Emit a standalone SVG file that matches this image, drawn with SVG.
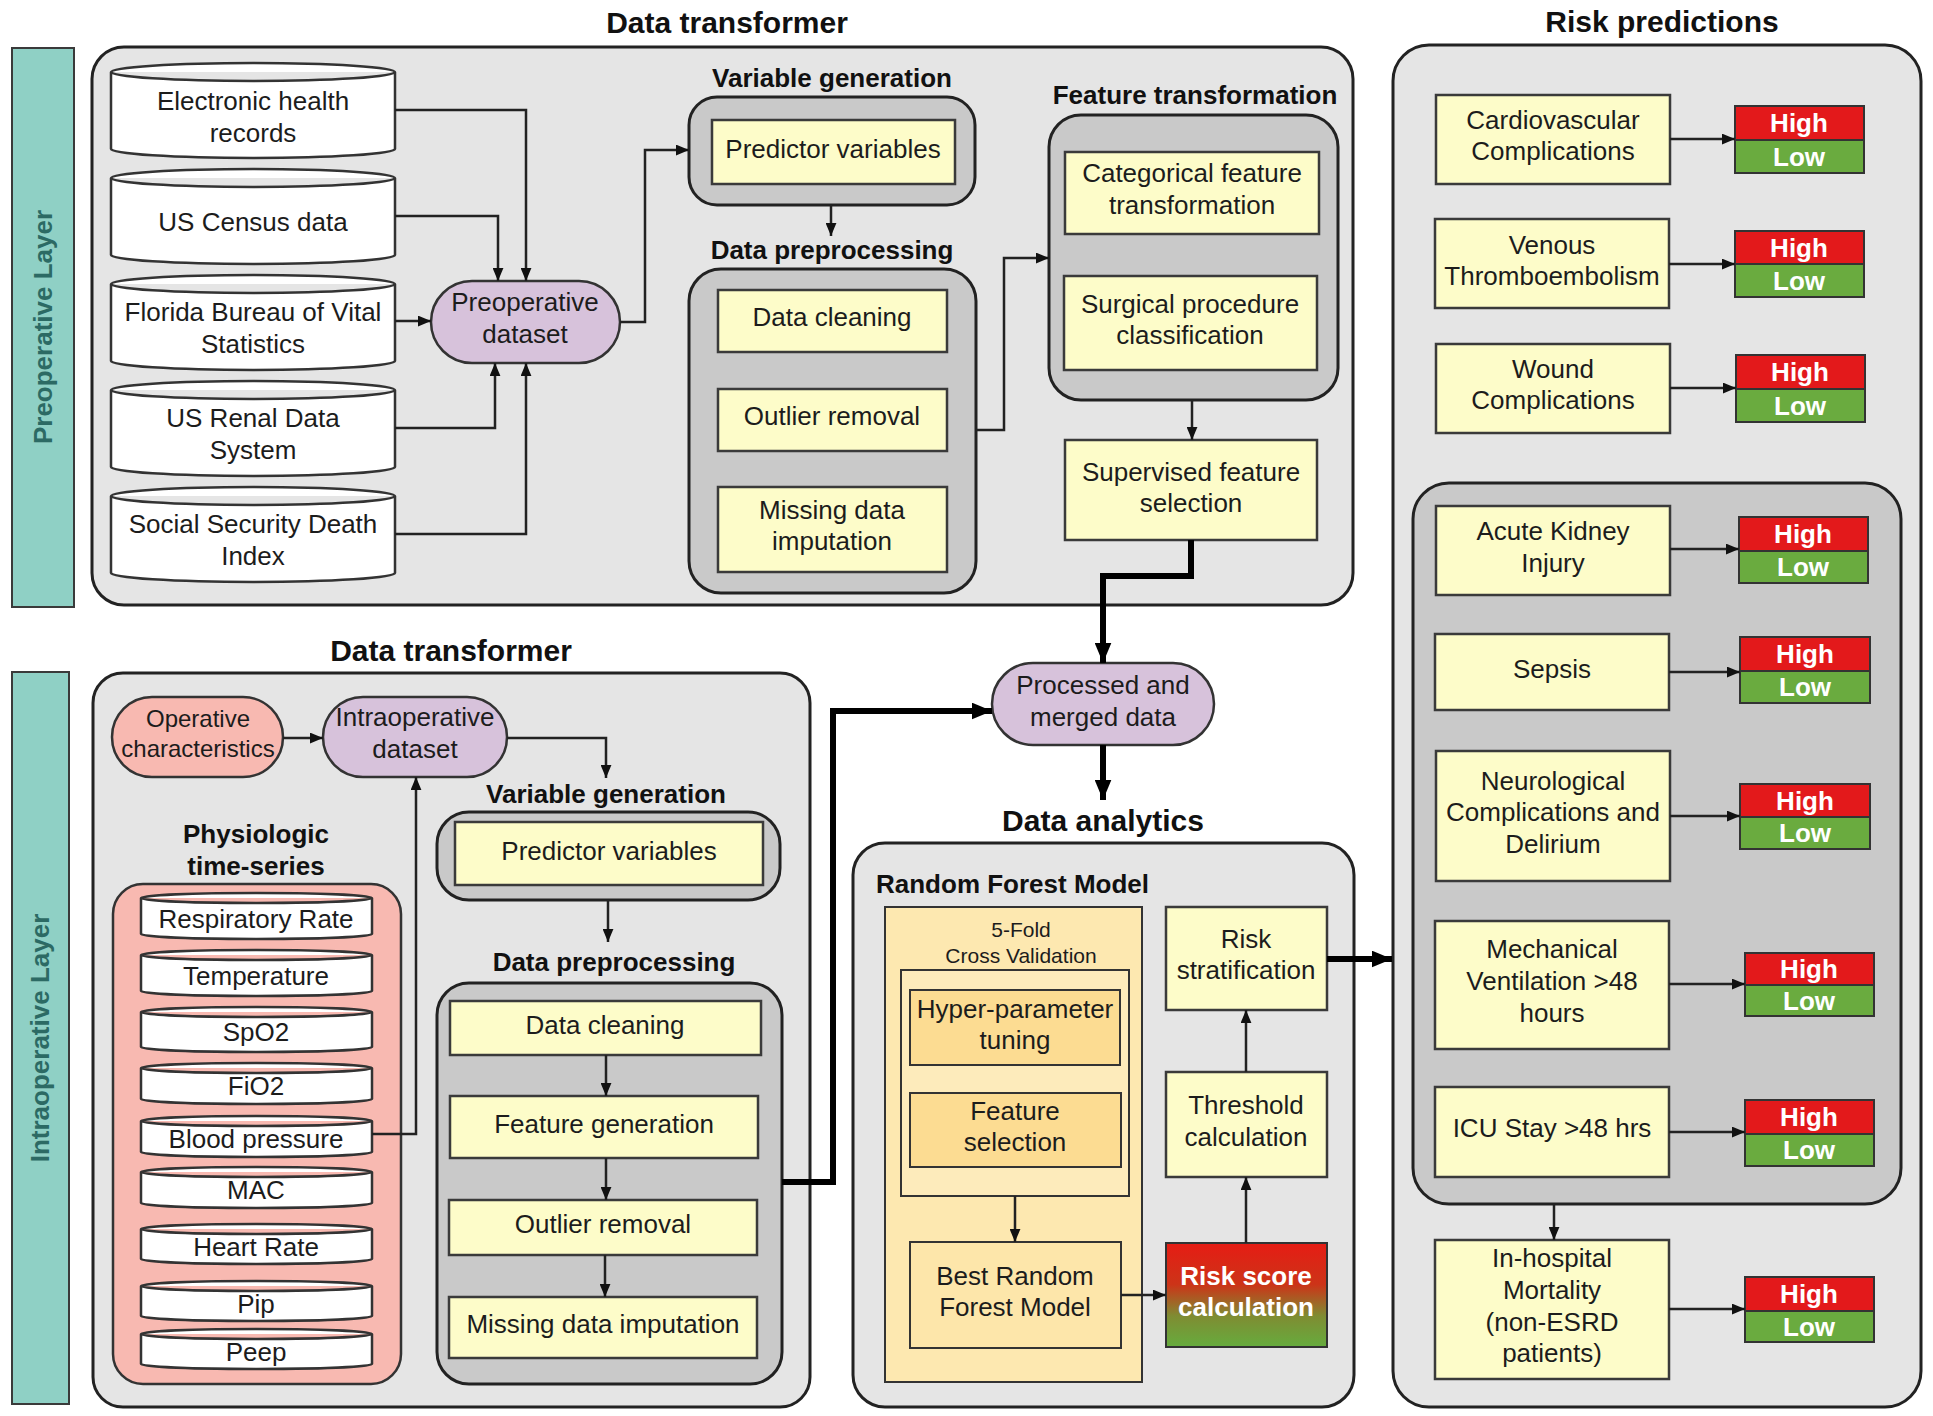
<svg xmlns="http://www.w3.org/2000/svg" width="1933" height="1416" viewBox="0 0 1933 1416">
<defs>
<marker id="ah" viewBox="0 0 12 10" refX="12" refY="5" markerWidth="13" markerHeight="11" markerUnits="userSpaceOnUse" orient="auto"><path d="M0,0 L12,5 L0,10 z" fill="#111"/></marker>
<marker id="ahb" viewBox="0 0 12 10" refX="12" refY="5" markerWidth="20" markerHeight="17" markerUnits="userSpaceOnUse" orient="auto"><path d="M0,0 L12,5 L0,10 z" fill="#000"/></marker>
<linearGradient id="rg" x1="0" y1="0" x2="0" y2="1">
<stop offset="0" stop-color="#e61c14"/>
<stop offset="0.4" stop-color="#cc3418"/>
<stop offset="0.7" stop-color="#7f8c32"/>
<stop offset="1" stop-color="#66ac3e"/>
</linearGradient>
<style>
text{font-family:"Liberation Sans",Arial,sans-serif;font-size:26px;fill:#1c1c1c;text-anchor:middle;dominant-baseline:central}
.t{font-weight:bold;font-size:30px;fill:#111}
.s{font-weight:bold;font-size:26px;fill:#111}
.lay{font-weight:bold;font-size:26px;fill:#2c6a64}
.w{font-weight:bold;fill:#fff}
.sm{font-size:21px}
.op{font-size:24px}
.teal{fill:#8fd0c5;stroke:#3a3a3a;stroke-width:2}
.cont{fill:#e5e5e5;stroke:#222;stroke-width:3}
.grp{fill:#c9c9c9;stroke:#222;stroke-width:3}
.pink{fill:#f8b9b1;stroke:#333;stroke-width:2.5}
.lav{fill:#d7c2db;stroke:#333;stroke-width:2.5}
.y{fill:#fdfcc9;stroke:#3a3a3a;stroke-width:2.5}
.cyl{fill:#fff;stroke:#333;stroke-width:2.5}
.or1{fill:#fde8b0;stroke:#333;stroke-width:2}
.or2{fill:#fdebbb;stroke:#333;stroke-width:2}
.or3{fill:#fcdc92;stroke:#333;stroke-width:2}
.or4{fill:#fde6aa;stroke:#333;stroke-width:2}
.hi{fill:#e3191b;stroke:#333;stroke-width:2}
.lo{fill:#6aab3f;stroke:#333;stroke-width:2}
.c{fill:none;stroke:#222;stroke-width:2.5;marker-end:url(#ah)}
.cb{fill:none;stroke:#000;stroke-width:6;marker-end:url(#ahb)}
</style>
</defs>

<!-- Layers -->
<g id="preop-layer">
<rect class="teal" x="12" y="48" width="62" height="559"/>
<text class="lay" transform="rotate(-90 43 327)" x="43" y="327">Preoperative Layer</text>
</g>
<g id="intraop-layer">
<rect class="teal" x="12" y="672" width="57" height="732"/>
<text class="lay" transform="rotate(-90 40 1038)" x="40" y="1038">Intraoperative Layer</text>
</g>

<!-- Top data transformer -->
<g id="dt-top">
<text class="t" x="727" y="22">Data transformer</text>
<rect class="cont" x="92" y="47" width="1261" height="558" rx="32"/>
</g>

<g id="ehr"><path class="cyl" d="M111,72 a142,9 0 0 1 284,0 v77 a142,9 0 0 1 -284,0 z M111,72 a142,9 0 0 0 284,0"/>
<text x="253" y="101">Electronic health</text><text x="253" y="133">records</text></g>
<g id="census"><path class="cyl" d="M111,178 a142,9 0 0 1 284,0 v77 a142,9 0 0 1 -284,0 z M111,178 a142,9 0 0 0 284,0"/>
<text x="253" y="222">US Census data</text></g>
<g id="florida"><path class="cyl" d="M111,284 a142,9 0 0 1 284,0 v77 a142,9 0 0 1 -284,0 z M111,284 a142,9 0 0 0 284,0"/>
<text x="253" y="312">Florida Bureau of Vital</text><text x="253" y="344">Statistics</text></g>
<g id="renal"><path class="cyl" d="M111,390 a142,9 0 0 1 284,0 v77 a142,9 0 0 1 -284,0 z M111,390 a142,9 0 0 0 284,0"/>
<text x="253" y="418">US Renal Data</text><text x="253" y="450">System</text></g>
<g id="ssdi"><path class="cyl" d="M111,496 a142,9 0 0 1 284,0 v77 a142,9 0 0 1 -284,0 z M111,496 a142,9 0 0 0 284,0"/>
<text x="253" y="524">Social Security Death</text><text x="253" y="556">Index</text></g>

<g id="preop-dataset"><rect class="lav" x="431" y="281" width="189" height="82" rx="41"/>
<text x="525" y="302">Preoperative</text><text x="525" y="334">dataset</text></g>

<g id="vg-top">
<text class="s" x="832" y="78">Variable generation</text>
<rect class="grp" x="689" y="97" width="286" height="108" rx="28"/>
<rect class="y" x="712" y="120" width="243" height="64"/>
<text x="833" y="149">Predictor variables</text>
</g>
<g id="dp-top">
<text class="s" x="832" y="250">Data preprocessing</text>
<rect class="grp" x="689" y="269" width="287" height="324" rx="32"/>
<rect class="y" x="718" y="290" width="229" height="62"/><text x="832" y="317">Data cleaning</text>
<rect class="y" x="718" y="389" width="229" height="62"/><text x="832" y="416">Outlier removal</text>
<rect class="y" x="718" y="487" width="229" height="85"/><text x="832" y="510">Missing data</text><text x="832" y="541">imputation</text>
</g>
<g id="ft">
<text class="s" x="1195" y="95">Feature transformation</text>
<rect class="grp" x="1049" y="115" width="289" height="285" rx="32"/>
<rect class="y" x="1065" y="152" width="254" height="82"/><text x="1192" y="173">Categorical feature</text><text x="1192" y="205">transformation</text>
<rect class="y" x="1064" y="276" width="253" height="94"/><text x="1190" y="304">Surgical procedure</text><text x="1190" y="335">classification</text>
</g>
<g id="sfs"><rect class="y" x="1065" y="440" width="252" height="100"/><text x="1191" y="472">Supervised feature</text><text x="1191" y="503">selection</text></g>

<!-- Bottom data transformer -->
<g id="dt-bottom">
<text class="t" x="451" y="650">Data transformer</text>
<rect class="cont" x="93" y="673" width="717" height="734" rx="30"/>
</g>
<g id="op-char"><rect class="pink" x="112" y="697" width="171" height="80" rx="40"/>
<text class="op" x="198" y="718">Operative</text><text class="op" x="198" y="748">characteristics</text></g>
<g id="intra-dataset"><rect class="lav" x="323" y="697" width="184" height="80" rx="40"/>
<text x="415" y="717">Intraoperative</text><text x="415" y="749">dataset</text></g>

<g id="physio">
<text class="s" x="256" y="834">Physiologic</text><text class="s" x="256" y="866">time-series</text>
<rect class="pink" x="113" y="884" width="288" height="500" rx="30"/>
</g>
<g id="resp"><path class="cyl" d="M141,898 a115.5,5 0 0 1 231,0 v36 a115.5,5 0 0 1 -231,0 z M141,898 a115.5,5 0 0 0 231,0"/><text x="256" y="919">Respiratory Rate</text></g>
<g id="temp"><path class="cyl" d="M141,955 a115.5,5 0 0 1 231,0 v36 a115.5,5 0 0 1 -231,0 z M141,955 a115.5,5 0 0 0 231,0"/><text x="256" y="976">Temperature</text></g>
<g id="spo2"><path class="cyl" d="M141,1012 a115.5,5 0 0 1 231,0 v35 a115.5,5 0 0 1 -231,0 z M141,1012 a115.5,5 0 0 0 231,0"/><text x="256" y="1032">SpO2</text></g>
<g id="fio2"><path class="cyl" d="M141,1068 a115.5,5 0 0 1 231,0 v31 a115.5,5 0 0 1 -231,0 z M141,1068 a115.5,5 0 0 0 231,0"/><text x="256" y="1086">FiO2</text></g>
<g id="bp"><path class="cyl" d="M141,1121 a115.5,5 0 0 1 231,0 v31 a115.5,5 0 0 1 -231,0 z M141,1121 a115.5,5 0 0 0 231,0"/><text x="256" y="1139">Blood pressure</text></g>
<g id="mac"><path class="cyl" d="M141,1172 a115.5,5 0 0 1 231,0 v31 a115.5,5 0 0 1 -231,0 z M141,1172 a115.5,5 0 0 0 231,0"/><text x="256" y="1190">MAC</text></g>
<g id="hr"><path class="cyl" d="M141,1229 a115.5,5 0 0 1 231,0 v30 a115.5,5 0 0 1 -231,0 z M141,1229 a115.5,5 0 0 0 231,0"/><text x="256" y="1247">Heart Rate</text></g>
<g id="pip"><path class="cyl" d="M141,1286 a115.5,5 0 0 1 231,0 v30 a115.5,5 0 0 1 -231,0 z M141,1286 a115.5,5 0 0 0 231,0"/><text x="256" y="1304">Pip</text></g>
<g id="peep"><path class="cyl" d="M141,1334 a115.5,5 0 0 1 231,0 v30 a115.5,5 0 0 1 -231,0 z M141,1334 a115.5,5 0 0 0 231,0"/><text x="256" y="1352">Peep</text></g>

<g id="vg-bottom">
<text class="s" x="606" y="794">Variable generation</text>
<rect class="grp" x="437" y="812" width="343" height="88" rx="32"/>
<rect class="y" x="455" y="822" width="308" height="63"/><text x="609" y="851">Predictor variables</text>
</g>
<g id="dp-bottom">
<text class="s" x="614" y="962">Data preprocessing</text>
<rect class="grp" x="437" y="983" width="345" height="401" rx="32"/>
<rect class="y" x="450" y="1001" width="311" height="54"/><text x="605" y="1025">Data cleaning</text>
<rect class="y" x="450" y="1096" width="308" height="62"/><text x="604" y="1124">Feature generation</text>
<rect class="y" x="449" y="1200" width="308" height="55"/><text x="603" y="1224">Outlier removal</text>
<rect class="y" x="449" y="1297" width="308" height="61"/><text x="603" y="1324">Missing data imputation</text>
</g>

<!-- Analytics -->
<g id="processed"><rect class="lav" x="992" y="663" width="222" height="82" rx="41"/>
<text x="1103" y="685">Processed and</text><text x="1103" y="717">merged data</text></g>
<g id="analytics">
<text class="t" x="1103" y="820">Data analytics</text>
<rect class="cont" x="853" y="843" width="501" height="564" rx="32"/>
<text class="s" x="876" y="884" style="text-anchor:start">Random Forest Model</text>
</g>
<g id="cv">
<rect class="or1" x="885" y="907" width="257" height="475"/>
<text class="sm" x="1021" y="929">5-Fold</text><text class="sm" x="1021" y="955">Cross Validation</text>
<rect class="or2" x="901" y="970" width="228" height="226"/>
</g>
<g id="hyper"><rect class="or3" x="910" y="990" width="210" height="75"/><text x="1015" y="1009">Hyper-parameter</text><text x="1015" y="1040">tuning</text></g>
<g id="fsel"><rect class="or3" x="910" y="1093" width="211" height="74"/><text x="1015" y="1111">Feature</text><text x="1015" y="1142">selection</text></g>
<g id="best-rf"><rect class="or4" x="910" y="1242" width="211" height="106"/><text x="1015" y="1276">Best Random</text><text x="1015" y="1307">Forest Model</text></g>
<g id="risk-score"><rect x="1166" y="1243" width="161" height="104" fill="url(#rg)" stroke="#333" stroke-width="2"/><text class="w" x="1246" y="1276">Risk score</text><text class="w" x="1246" y="1307">calculation</text></g>
<g id="threshold"><rect class="y" x="1166" y="1072" width="161" height="105"/><text x="1246" y="1105">Threshold</text><text x="1246" y="1137">calculation</text></g>
<g id="risk-strat"><rect class="y" x="1166" y="907" width="161" height="103"/><text x="1246" y="939">Risk</text><text x="1246" y="970">stratification</text></g>

<!-- Risk predictions -->
<g id="risk-pred">
<text class="t" x="1662" y="21">Risk predictions</text>
<rect class="cont" x="1393" y="45" width="528" height="1362" rx="36"/>
<rect class="grp" x="1413" y="483" width="488" height="721" rx="36"/>
</g>
<g id="cardio"><rect class="y" x="1436" y="95" width="234" height="89"/><text x="1553" y="120">Cardiovascular</text><text x="1553" y="151">Complications</text>
<rect class="hi" x="1735" y="106" width="129" height="34"/><rect class="lo" x="1735" y="140" width="129" height="33"/><text class="w" x="1799" y="123">High</text><text class="w" x="1799" y="157">Low</text></g>
<g id="vte"><rect class="y" x="1435" y="219" width="234" height="89"/><text x="1552" y="245">Venous</text><text x="1552" y="276">Thromboembolism</text>
<rect class="hi" x="1735" y="231" width="129" height="33"/><rect class="lo" x="1735" y="264" width="129" height="33"/><text class="w" x="1799" y="248">High</text><text class="w" x="1799" y="281">Low</text></g>
<g id="wound"><rect class="y" x="1436" y="344" width="234" height="89"/><text x="1553" y="369">Wound</text><text x="1553" y="400">Complications</text>
<rect class="hi" x="1736" y="355" width="129" height="34"/><rect class="lo" x="1736" y="389" width="129" height="33"/><text class="w" x="1800" y="372">High</text><text class="w" x="1800" y="406">Low</text></g>
<g id="aki"><rect class="y" x="1436" y="506" width="234" height="89"/><text x="1553" y="531">Acute Kidney</text><text x="1553" y="563">Injury</text>
<rect class="hi" x="1739" y="517" width="129" height="34"/><rect class="lo" x="1739" y="551" width="129" height="32"/><text class="w" x="1803" y="534">High</text><text class="w" x="1803" y="567">Low</text></g>
<g id="sepsis"><rect class="y" x="1435" y="634" width="234" height="76"/><text x="1552" y="669">Sepsis</text>
<rect class="hi" x="1740" y="637" width="130" height="34"/><rect class="lo" x="1740" y="671" width="130" height="32"/><text class="w" x="1805" y="654">High</text><text class="w" x="1805" y="687">Low</text></g>
<g id="neuro"><rect class="y" x="1436" y="751" width="234" height="130"/><text x="1553" y="781">Neurological</text><text x="1553" y="812">Complications and</text><text x="1553" y="844">Delirium</text>
<rect class="hi" x="1740" y="784" width="130" height="33"/><rect class="lo" x="1740" y="817" width="130" height="32"/><text class="w" x="1805" y="801">High</text><text class="w" x="1805" y="833">Low</text></g>
<g id="mv"><rect class="y" x="1435" y="921" width="234" height="128"/><text x="1552" y="949">Mechanical</text><text x="1552" y="981">Ventilation &gt;48</text><text x="1552" y="1013">hours</text>
<rect class="hi" x="1745" y="953" width="129" height="32"/><rect class="lo" x="1745" y="985" width="129" height="31"/><text class="w" x="1809" y="969">High</text><text class="w" x="1809" y="1001">Low</text></g>
<g id="icu"><rect class="y" x="1435" y="1087" width="234" height="90"/><text x="1552" y="1128">ICU Stay &gt;48 hrs</text>
<rect class="hi" x="1745" y="1100" width="129" height="34"/><rect class="lo" x="1745" y="1134" width="129" height="32"/><text class="w" x="1809" y="1117">High</text><text class="w" x="1809" y="1150">Low</text></g>
<g id="mortality"><rect class="y" x="1435" y="1240" width="234" height="139"/><text x="1552" y="1258">In-hospital</text><text x="1552" y="1290">Mortality</text><text x="1552" y="1322">(non-ESRD</text><text x="1552" y="1353">patients)</text>
<rect class="hi" x="1745" y="1277" width="129" height="34"/><rect class="lo" x="1745" y="1311" width="129" height="31"/><text class="w" x="1809" y="1294">High</text><text class="w" x="1809" y="1327">Low</text></g>

<!-- Connectors -->
<g id="connectors">
<path class="c" d="M395,110 H526 V281"/>
<path class="c" d="M395,216 H498 V281"/>
<path class="c" d="M395,321 H431"/>
<path class="c" d="M395,428 H495 V363"/>
<path class="c" d="M395,534 H526 V363"/>
<path class="c" d="M620,322 H645 V150 H689"/>
<path class="c" d="M831,205 V236"/>
<path class="c" d="M976,430 H1004 V258 H1049"/>
<path class="c" d="M1192,400 V440"/>
<path class="cb" d="M1191,540 V576 H1103 V663"/>
<path class="cb" d="M1103,745 V800"/>
<path class="cb" d="M782,1182 H833 V711 H992"/>
<path class="cb" d="M1327,959 H1392"/>
<path class="c" d="M283,738 H323"/>
<path class="c" d="M507,738 H606 V778"/>
<path class="c" d="M372,1134 H416 V777"/>
<path class="c" d="M608,900 V942"/>
<path class="c" d="M606,1055 V1096"/>
<path class="c" d="M606,1158 V1200"/>
<path class="c" d="M605,1255 V1297"/>
<path class="c" d="M1015,1196 V1242"/>
<path class="c" d="M1121,1295 H1166"/>
<path class="c" d="M1246,1243 V1177"/>
<path class="c" d="M1246,1072 V1010"/>
<path class="c" d="M1670,139 H1735"/>
<path class="c" d="M1669,264 H1735"/>
<path class="c" d="M1670,388 H1736"/>
<path class="c" d="M1670,549 H1739"/>
<path class="c" d="M1669,672 H1740"/>
<path class="c" d="M1670,816 H1740"/>
<path class="c" d="M1669,984 H1745"/>
<path class="c" d="M1669,1132 H1745"/>
<path class="c" d="M1554,1204 V1240"/>
<path class="c" d="M1669,1309 H1745"/>
</g>
</svg>
